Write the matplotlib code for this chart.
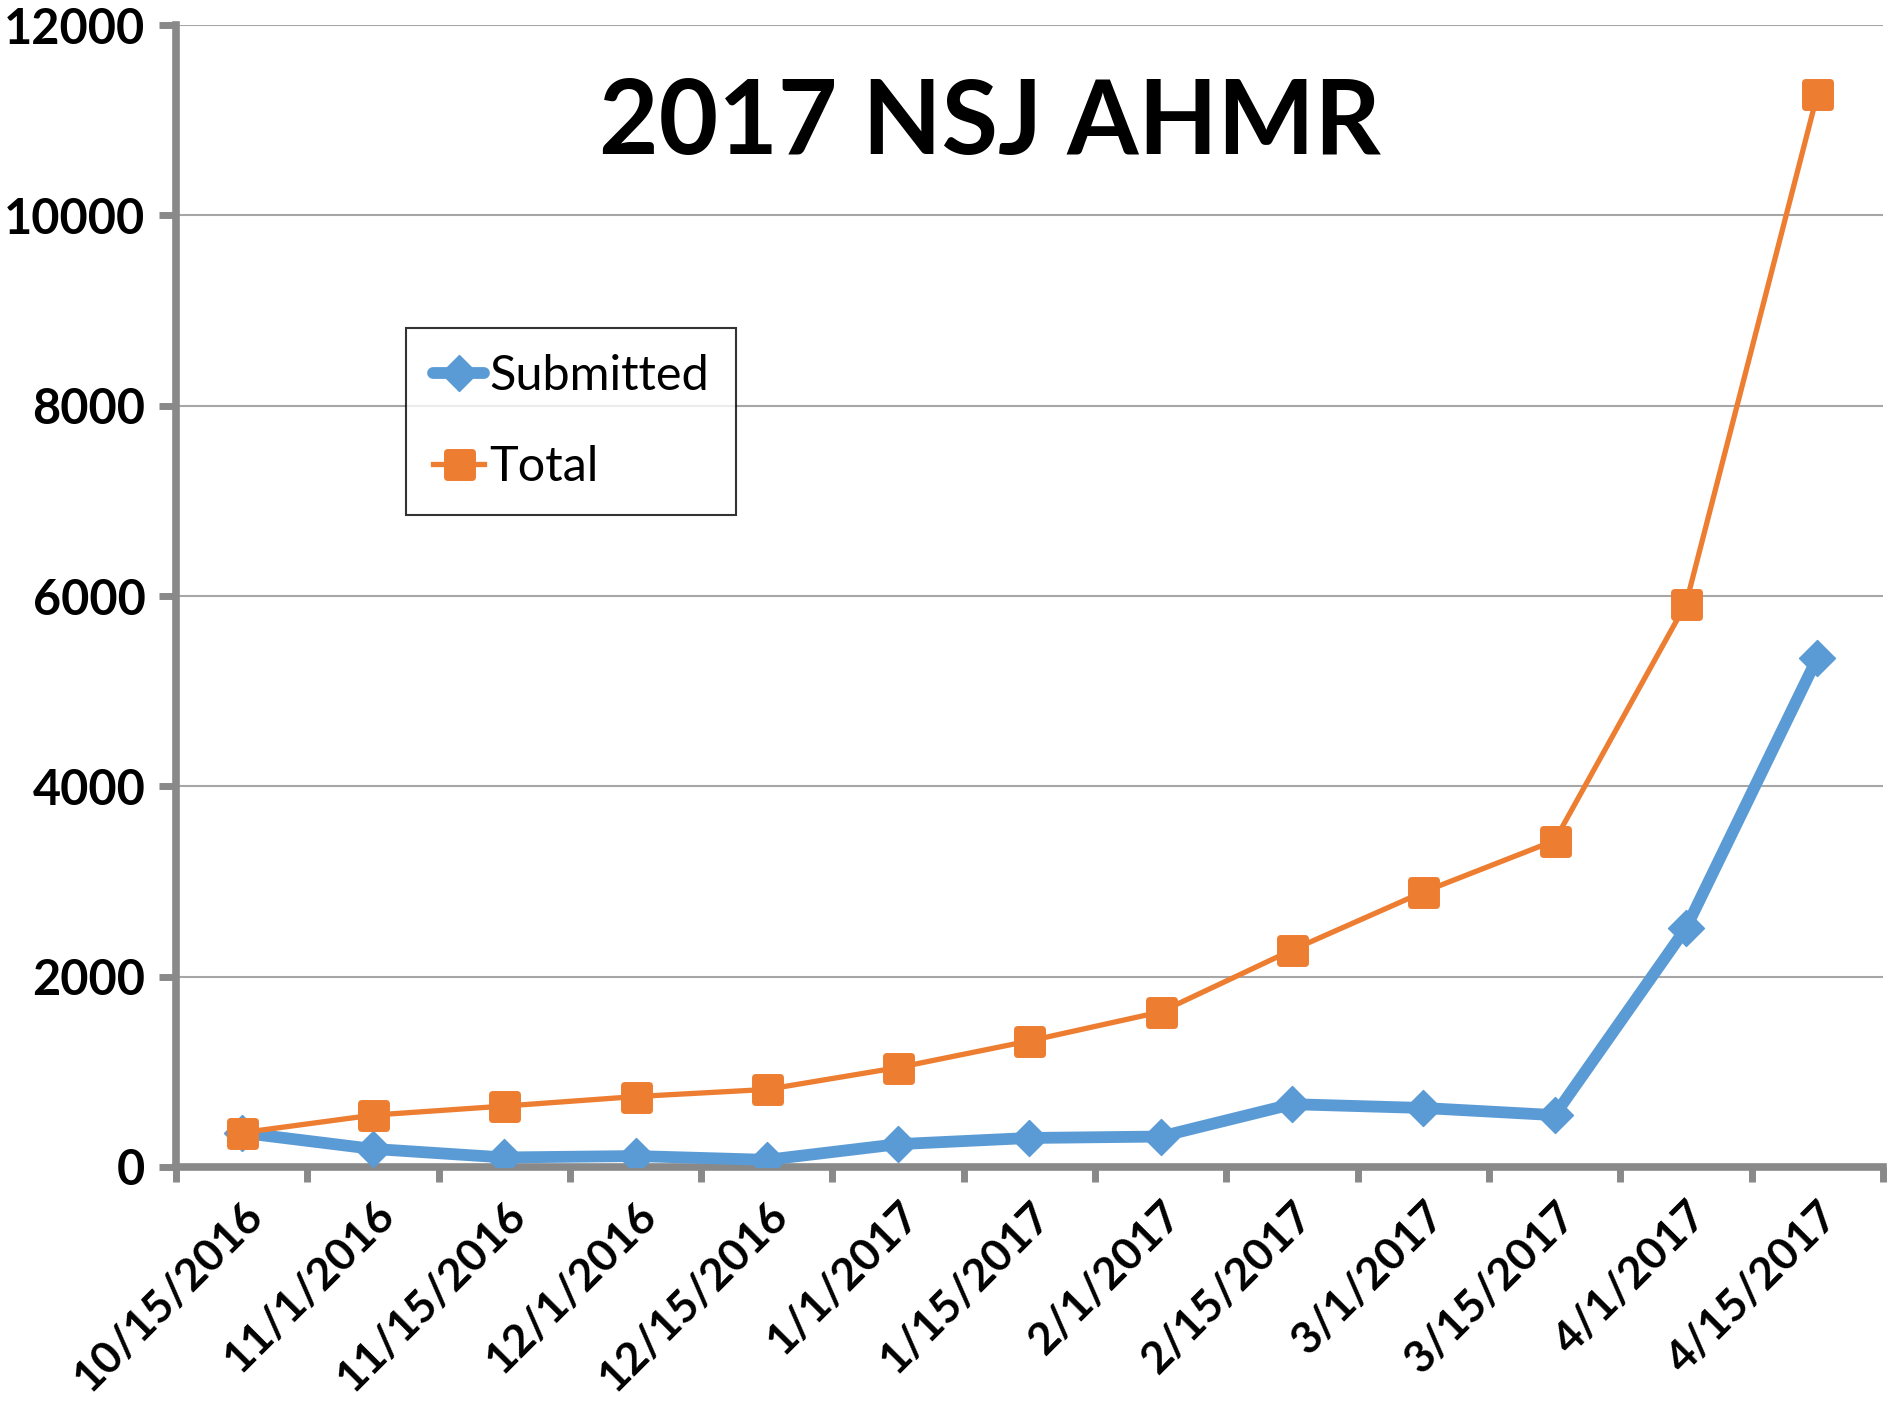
import matplotlib
matplotlib.use("Agg")
import matplotlib.pyplot as plt
from matplotlib.markers import MarkerStyle
from matplotlib.ticker import FixedLocator, NullFormatter

categories = ["10/15/2016", "11/1/2016", "11/15/2016", "12/1/2016", "12/15/2016",
              "1/1/2017", "1/15/2017", "2/1/2017", "2/15/2017", "3/1/2017",
              "3/15/2017", "4/1/2017", "4/15/2017"]
submitted = [360, 190, 100, 115, 75, 240, 305, 320, 660, 620, 545, 2510, 5350]
total = [360, 545, 640, 740, 815, 1045, 1325, 1630, 2280, 2890, 3430, 5920, 11270]
yticks = [0, 2000, 4000, 6000, 8000, 10000, 12000]
title = "2017 NSJ AHMR"

plt.rcParams['font.family'] = ['Lato', 'DejaVu Sans']

fig = plt.figure(figsize=(19.02, 14.05), dpi=100)
ax = fig.add_axes([0.0925, 0.1694, 0.8975, 0.8128])

x = list(range(len(categories)))
ax.plot(x, submitted, color='#5B9BD5', lw=8.5, solid_capstyle='round',
        marker=MarkerStyle('D', joinstyle='round'), markersize=18,
        markerfacecolor='#5B9BD5', markeredgecolor='#5B9BD5', markeredgewidth=1,
        label='Submitted', zorder=3)
ax.plot(x, total, color='#ED7D31', lw=3.8,
        marker=MarkerStyle('s', joinstyle='round'), markersize=18,
        markerfacecolor='#ED7D31', markeredgecolor='#ED7D31', markeredgewidth=5,
        label='Total', zorder=4)

ax.set_xlim(-0.5, len(categories) - 0.5)
ax.set_ylim(0, 12000)
ax.set_yticks(yticks)
ax.set_yticklabels([str(v) for v in yticks], fontsize=35, fontweight='bold')

ax.xaxis.set_major_locator(FixedLocator([i - 0.5 for i in range(len(categories) + 1)]))
ax.xaxis.set_major_formatter(NullFormatter())
ax.xaxis.set_minor_locator(FixedLocator(x))
ax.set_xticklabels(categories, minor=True, fontsize=32, fontweight='bold',
                   rotation=45, ha='right', va='top', rotation_mode='anchor')
ax.tick_params(axis='x', which='minor', length=0, pad=20)
ax.tick_params(axis='x', which='major', length=11, width=5, color='#898989', direction='out')
ax.tick_params(axis='y', which='major', length=12, width=5, color='#898989', direction='out', pad=10)

for s in ['top', 'right']:
    ax.spines[s].set_visible(False)
for s in ['left', 'bottom']:
    ax.spines[s].set_color('#898989')
    ax.spines[s].set_linewidth(5.5)

ax.grid(axis='y', color='#A6A6A6', lw=1.5)
ax.set_axisbelow(True)

ax.text(0.477, 0.913, title, transform=ax.transAxes, ha='center', va='center',
        fontsize=74, fontweight='bold')

leg = ax.legend(loc='upper left', bbox_to_anchor=(0.135, 0.735), fontsize=35,
                frameon=True, fancybox=False, edgecolor='black', handlelength=1.05,
                handletextpad=0.1, labelspacing=0.95, borderpad=0.55, borderaxespad=0)
leg.get_frame().set_linewidth(1.5)

fig.savefig('out.png', dpi=100)
